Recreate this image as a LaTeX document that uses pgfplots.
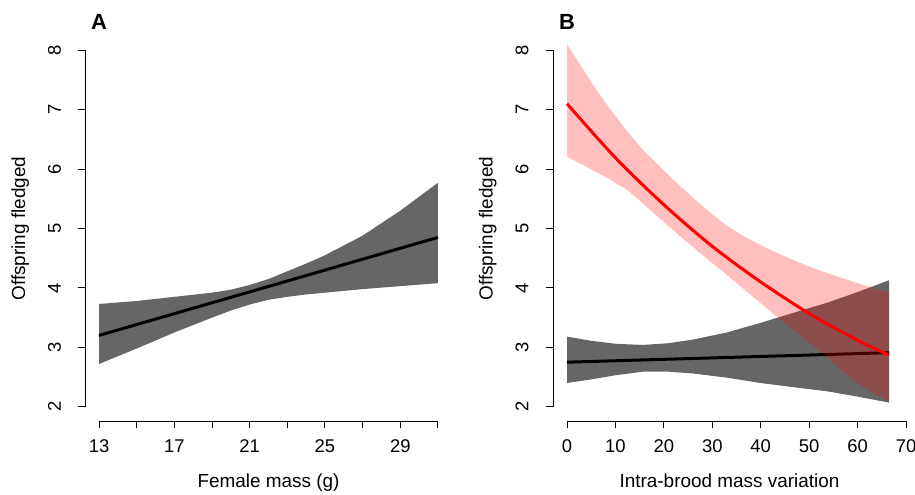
\documentclass[border=0pt]{standalone}
\usepackage{pgfplots}
\pgfplotsset{compat=1.18}
\usepackage{fontspec}
\setmainfont{Liberation Sans}
\definecolor{bandgray}{HTML}{666666}
\begin{document}
\begin{tikzpicture}
\useasboundingbox (0,0) rectangle (915bp,-495bp);
\pgfplotsset{every axis/.style={
  scale only axis, height=385bp,
  ymin=1.76, ymax=8.24, ytick={2,...,8},
  axis x line*=bottom, axis y line*=left,
  axis line style={draw=none},
  tick align=outside, major tick length=7bp,
  every tick/.style={black, line width=1bp},
  yticklabel style={rotate=90, anchor=south, font=\fontsize{18.5}{22}\selectfont},
  xticklabel style={font=\fontsize{18.5}{22}\selectfont},
  yticklabel shift=14bp, xticklabel shift=8bp,
  /pgf/number format/assume math mode=true,
  ylabel={Offspring fledged},
  ylabel style={font=\fontsize{19}{22}\selectfont, yshift=12bp},
  xlabel style={font=\fontsize{19}{22}\selectfont, yshift=-14bp},
  clip=false, anchor=south west}}
\begin{axis}[at={(85.5bp,-421bp)}, width=366bp,
  xmin=12.28, xmax=31.72, xtick={13,15,...,31},
  xticklabels={13,,17,,21,,25,,29,},
  xlabel={Female mass (g)}]
\addplot[fill=bandgray, draw=none] coordinates {
(13,3.73)(15,3.78)(17,3.85)(19,3.92)(20,3.97)(21,4.05)(22,4.15)(23,4.28)(24,4.41)(25,4.55)(27,4.88)(29,5.3)(31,5.77)
(31,4.08)(29,4.03)(27,3.98)(25,3.92)(24,3.89)(23,3.85)(22,3.80)(21,3.72)(20,3.62)(19,3.5)(17,3.25)(15,2.98)(13,2.72)} --cycle;
\addplot[black, line width=3bp] coordinates {(13,3.2)(31,4.85)};
\draw[line width=1bp] (axis cs:13,1.76) -- (axis cs:31,1.76);
\draw[line width=1bp] (axis cs:12.28,2) -- (axis cs:12.28,8);
\node[font=\fontsize{22}{26}\selectfont\bfseries] at (axis cs:13,8.48) {A};
\end{axis}
\begin{axis}[at={(553bp,-421bp)}, width=353bp,
  xmin=-2.9, xmax=70, xtick={0,10,...,70},
  xlabel={Intra-brood mass variation}]
\addplot[fill=bandgray, draw=none] coordinates {
(0,3.18)(5,3.11)(10,3.06)(15.7,3.04)(21,3.07)(26,3.13)(33,3.25)(39.9,3.41)(46.7,3.58)(53.7,3.75)(60,3.93)(66.5,4.13)
(66.5,2.07)(60,2.17)(53.7,2.26)(46.7,2.33)(39.9,2.40)(33,2.49)(26,2.56)(21,2.59)(15.7,2.59)(10,2.53)(5,2.46)(0,2.40)} --cycle;
\addplot[black, line width=3bp] coordinates {(0,2.75)(66.5,2.91)};
\addplot[fill=red, fill opacity=0.25, draw=none] coordinates {
(0,8.1)(3,7.72)(6,7.34)(9,7.0)(12,6.68)(15.7,6.32)(19.2,6.04)(22.5,5.78)(26,5.52)(29.5,5.27)(33,5.05)(36.5,4.87)(40,4.72)(43.3,4.59)(46.7,4.47)(50,4.36)(53.7,4.25)(60,4.08)(66.5,3.92)
(66.5,2.09)(63,2.25)(60,2.4)(56.8,2.6)(53.7,2.85)(50,3.08)(46.7,3.3)(43.3,3.52)(39.9,3.75)(36.5,3.98)(33,4.22)(29.5,4.45)(26,4.69)(22.5,4.93)(19,5.18)(15.7,5.42)(12.4,5.65)(9,5.82)(6,5.95)(3,6.08)(0,6.21)} --cycle;
\addplot[red, line width=3bp, smooth] coordinates {
(0,7.1)(10,6.19)(20,5.40)(30,4.70)(40,4.10)(50,3.57)(60,3.12)(66.5,2.87)};
\draw[line width=1bp] (axis cs:0,1.76) -- (axis cs:70,1.76);
\draw[line width=1bp] (axis cs:-2.9,2) -- (axis cs:-2.9,8);
\node[font=\fontsize{22}{26}\selectfont\bfseries] at (axis cs:0,8.48) {B};
\end{axis}
\end{tikzpicture}
\end{document}
